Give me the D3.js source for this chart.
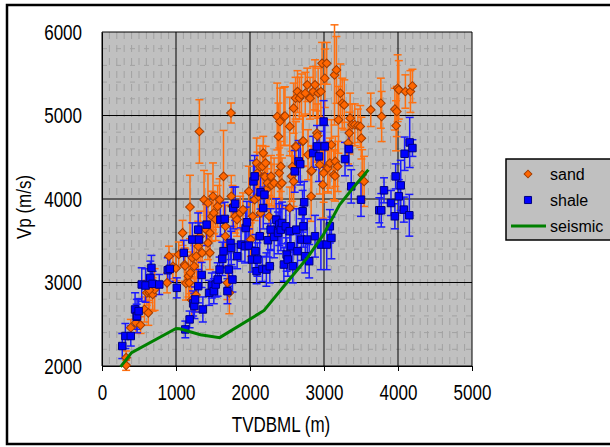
<!DOCTYPE html>
<html>
<head>
<meta charset="utf-8">
<script src="https://cdn.jsdelivr.net/npm/d3@7"></script>
<style>
body { margin: 0; background: #fff; }
svg text { font-family: "Liberation Sans", Arial, sans-serif; fill: #000; }
</style>
</head>
<body>
<svg id="chart" width="610" height="447"></svg>
<script>
// depth (m), Vp (m/s), error (m/s)
const sandX = [326, 326, 389, 458, 521, 574, 626, 605, 642, 684, 711, 640, 879, 905, 958, 1000, 1037, 1089,
  1116, 1122, 1135, 1168, 1179, 1195, 1189, 1212, 1221, 1247, 1270, 1274, 1300, 1316, 1326, 1353, 1379,
  1405, 1432, 1432, 1458, 1458, 1484, 1500, 1511, 1537, 1563, 1589, 1642, 1668, 1668, 1695, 1721, 1743,
  1747, 1763, 1800, 1826, 1868, 1905, 1984, 2011, 2037, 2063, 2089, 2100, 2116, 2135, 2142, 2168, 2179,
  2195, 2203, 2211, 2221, 2237, 2258, 2284, 2293, 2326, 2368, 2384, 2405, 2395, 2405, 2416, 2432, 2458,
  2473, 2537, 2537, 2563, 2572, 2589, 2589, 2616, 2616, 2622, 2642, 2668, 2695, 2711, 2720, 2747, 2774,
  2784, 2811, 2826, 2826, 2834, 2853, 2879, 2905, 2910, 2921, 2942, 2958, 2974, 2984, 2995, 3011, 3037,
  3050, 3053, 3079, 3100, 3132, 3142, 3149, 3153, 3168, 3184, 3195, 3221, 3247, 3274, 3326, 3342, 3353,
  3379, 3416, 3458, 3490, 3505, 3516, 3542, 3632, 3768, 3779, 3958, 3974, 3984, 3995, 4011, 4100, 4168,
  4195];
const sandY = [2008, 2100, 2458, 2518, 2490, 2677, 2637, 2876, 2876, 2857, 2916, 2910, 2996, 3315, 3195, 3170,
  3335, 3594, 3215, 3198, 2990, 3076, 2996, 3116, 3904, 2790, 3295, 3195, 2850, 3315, 3434, 4809, 3554,
  3355, 3992, 3633, 3952, 3474, 3594, 3355, 3793, 4032, 3833, 3753, 3912, 3992, 4271, 3554, 3673, 2996,
  2876, 5030, 4032, 3912, 3793, 3753, 3833, 3873, 4092, 3514, 3793, 3992, 4430, 4311, 4032, 4387, 3833,
  4390, 4550, 4271, 4267, 4430, 4112, 4191, 3793, 4271, 4167, 4191, 4988, 4749, 4928, 4311, 4167, 4390,
  4191, 4988, 4994, 3893, 4869, 4271, 4387, 4211, 5088, 4630, 5207, 4626, 5287, 5207, 5247, 4689, 4695,
  5267, 5367, 4530, 5207, 4331, 4032, 4339, 5287, 5367, 4789, 4755, 5267, 4410, 5287, 5625, 4171, 4311,
  5446, 5625, 4387, 4371, 4430, 4650, 4291, 5486, 4275, 4450, 5546, 4390, 4948, 5267, 5147, 5127, 4670,
  4789, 4968, 4889, 4889, 4877, 4869, 4729, 4291, 4211, 5068, 5147, 4988, 5076, 4877, 5048, 5327, 5307,
  5287, 5287, 5354];
const sandErr = [60, 80, 100, 120, 100, 150, 150, 150, 200, 200, 250, 150, 120, 120, 150, 150, 150, 150, 200,
  200, 200, 250, 200, 250, 380, 200, 250, 250, 200, 250, 300, 380, 300, 300, 350, 300, 350, 200, 250, 200,
  300, 400, 250, 250, 250, 250, 550, 200, 250, 200, 250, 120, 250, 250, 200, 200, 200, 200, 300, 200, 250,
  250, 300, 250, 250, 250, 250, 250, 200, 250, 250, 200, 250, 250, 250, 250, 250, 300, 400, 400, 400, 300,
  250, 300, 300, 350, 350, 250, 350, 300, 250, 300, 300, 300, 250, 300, 250, 250, 250, 300, 300, 250, 200,
  300, 250, 300, 300, 300, 300, 300, 350, 300, 300, 350, 300, 250, 400, 350, 350, 250, 300, 300, 300, 300,
  300, 600, 300, 300, 400, 300, 400, 350, 300, 300, 250, 250, 300, 250, 250, 200, 250, 250, 300, 300, 200,
  300, 300, 250, 300, 300, 400, 350, 200, 250, 200];

const shaleX = [274, 316, 389, 447, 468, 474, 495, 537, 589, 653, 668, 684, 774, 889, 916, 1011, 1105, 1126,
  1184, 1221, 1232, 1248, 1258, 1300, 1311, 1300, 1347, 1363, 1414, 1447, 1484, 1511, 1537, 1563, 1589,
  1600, 1626, 1642, 1658, 1695, 1711, 1737, 1747, 1763, 1774, 1800, 1826, 1879, 1932, 1942, 1958, 1984,
  2026, 2047, 2063, 2074, 2089, 2100, 2132, 2142, 2168, 2179, 2195, 2221, 2242, 2268, 2279, 2326, 2353,
  2379, 2395, 2416, 2432, 2458, 2484, 2495, 2511, 2537, 2553, 2579, 2605, 2626, 2642, 2658, 2679, 2695,
  2711, 2721, 2732, 2747, 2774, 2800, 2853, 2879, 2905, 2932, 2958, 2995, 3011, 3037, 3079, 3100, 3284,
  3337, 3368, 3500, 3747, 3774, 3811, 3905, 3958, 3968, 4011, 4037, 4079, 4089, 4153, 4158, 4195];
const shaleY = [2239, 2359, 2359, 2677, 2590, 2598, 2657, 2976, 2964, 3056, 3175, 2984, 2976, 3147, 3163, 2936,
  3355, 2438, 2558, 3514, 2749, 2718, 2797, 2956, 3514, 3633, 3090, 2677, 3693, 2876, 2964, 2896, 2976,
  3036, 3155, 3753, 3283, 3375, 3761, 2896, 3155, 3474, 3414, 3036, 3892, 3944, 3315, 3454, 3434, 3653,
  3721, 3442, 3275, 4211, 4271, 3375, 3135, 3275, 3554, 4080, 3163, 3892, 4052, 3155, 3506, 3195, 3633,
  3546, 3753, 3594, 3693, 3633, 3713, 3215, 3673, 3335, 3275, 3614, 3434, 3195, 4331, 3633, 3375, 4450,
  4418, 3514, 3853, 3673, 3960, 3315, 3514, 3255, 4550, 3554, 4630, 4510, 3454, 4928, 4630, 3454, 3673,
  3534, 4478, 4598, 4151, 3992, 3865, 3865, 4104, 3952, 3793, 4271, 4032, 4163, 3873, 4542, 3805, 4677,
  4610];
const shaleErr = [150, 150, 120, 200, 150, 200, 150, 200, 200, 200, 150, 150, 120, 150, 150, 120, 150, 100,
  100, 200, 150, 150, 150, 200, 200, 200, 150, 150, 250, 150, 150, 150, 150, 200, 150, 200, 200, 200, 200,
  150, 200, 200, 200, 150, 250, 200, 150, 200, 200, 250, 250, 200, 150, 250, 250, 200, 150, 200, 250, 200,
  150, 250, 250, 200, 200, 200, 250, 250, 250, 250, 250, 250, 250, 200, 250, 200, 200, 250, 200, 200, 250,
  250, 200, 250, 250, 250, 250, 250, 250, 200, 250, 200, 200, 250, 250, 300, 300, 250, 250, 300, 200, 250,
  200, 200, 200, 200, 150, 200, 150, 150, 150, 150, 200, 300, 150, 200, 250, 300, 100, 300, 300];

const seismicX = [250, 400, 1000, 1050, 1330, 1590, 2190, 2540, 2770, 2990, 3210, 3400, 3600];
const seismicY = [1990, 2160, 2450, 2445, 2375, 2340, 2665, 3045, 3290, 3570, 3930, 4140, 4350];

const xTicks = [0, 1000, 2000, 3000, 4000, 5000];
const yTicks = [2000, 3000, 4000, 5000, 6000];
const legendNames = ["sand", "shale", "seismic"];

const svg = d3.select("#chart"),
    margin = { top: 32, left: 102 },
    width = 370,
    height = 334;

// outer frame
svg.append("rect")
    .attr("x", 7).attr("y", 5)
    .attr("width", 700).attr("height", 439)
    .attr("fill", "#fff")
    .attr("stroke", "#000")
    .attr("stroke-width", 2.5);

const g = svg.append("g").attr("transform", `translate(${margin.left},${margin.top})`);

const x = d3.scaleLinear().domain([0, 5000]).range([0, width]);
const y = d3.scaleLinear().domain([2000, 6000]).range([height, 0]);

g.append("rect")
    .attr("width", width)
    .attr("height", height)
    .attr("fill", "#c0c0c0");

// minor grid (dashed)
g.append("g").selectAll("line")
    .data(d3.range(100, 5000, 100).filter(v => v % 1000 !== 0))
    .join("line")
    .attr("x1", d => x(d)).attr("x2", d => x(d))
    .attr("y1", 0).attr("y2", height)
    .attr("stroke", "#a2a2a2")
    .attr("stroke-dasharray", "7,6");

g.append("g").selectAll("line")
    .data(d3.range(2200, 6000, 200).filter(v => v % 1000 !== 0))
    .join("line")
    .attr("x1", 0).attr("x2", width)
    .attr("y1", d => y(d)).attr("y2", d => y(d))
    .attr("stroke", "#a2a2a2")
    .attr("stroke-dasharray", "5,9");

// major grid
g.append("g").selectAll("line")
    .data(xTicks)
    .join("line")
    .attr("x1", d => x(d)).attr("x2", d => x(d))
    .attr("y1", 0).attr("y2", height)
    .attr("stroke", "#000");

g.append("g").selectAll("line")
    .data(yTicks)
    .join("line")
    .attr("x1", 0).attr("x2", width)
    .attr("y1", d => y(d)).attr("y2", d => y(d))
    .attr("stroke", "#000");

// axes
const xAxis = g.append("g")
    .attr("transform", `translate(0,${height})`)
    .call(d3.axisBottom(x).tickValues(xTicks).tickFormat(d3.format("d")).tickSizeInner(5).tickSizeOuter(0));
xAxis.selectAll("text")
    .attr("y", 21.6)
    .attr("dy", "0.35em")
    .attr("transform", "scale(1,1.25)");

const yAxis = g.append("g")
    .call(d3.axisLeft(y).tickValues(yTicks).tickFormat(d3.format("d")).tickSize(0));
yAxis.selectAll("text")
    .attr("x", -20)
    .attr("dy", "0.35em")
    .attr("transform", "scale(1,1.25)");

g.selectAll(".tick text").style("font-size", "17px").style("font-family", '"Liberation Sans", Arial, sans-serif');
g.selectAll(".domain, .tick line").attr("stroke", "#000");

svg.append("text")
    .attr("transform", `translate(${margin.left + width / 2 - 6},425) scale(1,1.25)`)
    .attr("text-anchor", "middle")
    .attr("dy", "0.35em")
    .style("font-size", "17px")
    .text("TVDBML (m)");

svg.append("text")
    .attr("transform", "translate(24,207) rotate(-90) scale(1,1.2)")
    .attr("text-anchor", "middle")
    .attr("dy", "0.35em")
    .style("font-size", "17px")
    .text("Vp (m/s)");

// error bars
const drawErrors = (xs, ys, es, color) => {
    const eg = g.append("g").attr("stroke", color).attr("stroke-width", 1.5);
    xs.forEach((xv, i) => {
        const cx = x(xv), lo = y(ys[i] - es[i]), hi = y(ys[i] + es[i]);
        eg.append("line").attr("x1", cx).attr("x2", cx).attr("y1", lo).attr("y2", hi);
        eg.append("line").attr("x1", cx - 4).attr("x2", cx + 4).attr("y1", lo).attr("y2", lo);
        eg.append("line").attr("x1", cx - 4).attr("x2", cx + 4).attr("y1", hi).attr("y2", hi);
    });
};

drawErrors(sandX, sandY, sandErr, "#ff7010");
drawErrors(shaleX, shaleY, shaleErr, "#1a1aff");

const diamond = d3.symbol().type(d3.symbolSquare).size(38);
const square = d3.symbol().type(d3.symbolSquare).size(56);

g.append("g").selectAll("path")
    .data(sandX)
    .join("path")
    .attr("d", diamond)
    .attr("transform", (d, i) => `translate(${x(d)},${y(sandY[i])}) rotate(45)`)
    .attr("fill", "#ff6600")
    .attr("stroke", "#a03c00")
    .attr("stroke-width", 1);

g.append("g").selectAll("path")
    .data(shaleX)
    .join("path")
    .attr("d", square)
    .attr("transform", (d, i) => `translate(${x(d)},${y(shaleY[i])})`)
    .attr("fill", "#0000ff")
    .attr("stroke", "#000080")
    .attr("stroke-width", 1);

const line = d3.line()
    .x((d, i) => x(d))
    .y((d, i) => y(seismicY[i]));

g.append("path")
    .datum(seismicX)
    .attr("d", line)
    .attr("fill", "none")
    .attr("stroke", "#008000")
    .attr("stroke-width", 3);

// legend
const lg = svg.append("g").attr("transform", "translate(506,159)");
lg.append("rect")
    .attr("width", 110).attr("height", 81)
    .attr("fill", "#c0c0c0")
    .attr("stroke", "#000")
    .attr("stroke-width", 1.5);

const items = lg.selectAll(".legend")
    .data(legendNames)
    .join("g")
    .attr("class", "legend")
    .attr("transform", (d, i) => `translate(0,${15 + i * 26})`);

items.filter(d => d === "sand").append("path")
    .attr("d", d3.symbol().type(d3.symbolSquare).size(30))
    .attr("transform", "translate(22,0) rotate(45)")
    .attr("fill", "#ff6600")
    .attr("stroke", "#a03c00");
items.filter(d => d === "shale").append("path")
    .attr("d", d3.symbol().type(d3.symbolSquare).size(50))
    .attr("transform", "translate(22,0)")
    .attr("fill", "#0000ff")
    .attr("stroke", "#000080");
items.filter(d => d === "seismic").append("line")
    .attr("x1", 5).attr("x2", 40)
    .attr("stroke", "#008000")
    .attr("stroke-width", 3);

items.append("text")
    .attr("x", 44)
    .attr("dy", "0.35em")
    .style("font-size", "16px")
    .text(d => d);
</script>
</body>
</html>
